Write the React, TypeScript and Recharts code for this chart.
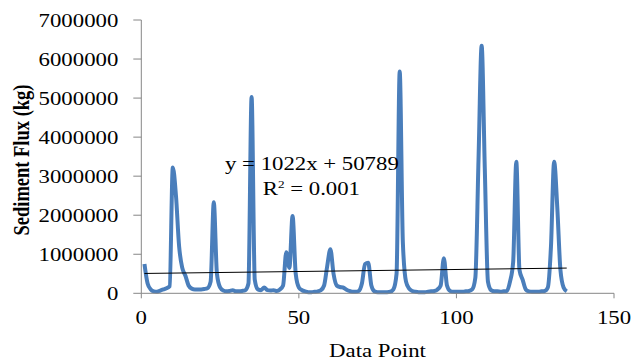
import { LineChart, Line, XAxis, YAxis } from "recharts";

// sediment flux per data point (kg), points 1..135
const fluxKg = [
  750000, 250000, 100000, 50000, 40000, 70000, 100000, 130000, 180000, 3220000,
  2500000, 1200000, 650000, 450000, 200000, 120000, 100000, 100000, 100000, 110000,
  130000, 300000, 2330000, 500000, 150000, 70000, 50000, 60000, 80000, 50000,
  50000, 60000, 80000, 250000, 5030000, 350000, 100000, 80000, 150000, 80000,
  70000, 80000, 60000, 100000, 200000, 1050000, 650000, 1980000, 500000, 150000,
  80000, 50000, 30000, 30000, 40000, 50000, 80000, 200000, 700000, 1130000,
  500000, 200000, 160000, 150000, 100000, 60000, 40000, 40000, 60000, 250000,
  750000, 780000, 200000, 50000, 30000, 30000, 30000, 30000, 40000, 100000,
  500000, 5680000, 1300000, 300000, 120000, 60000, 40000, 30000, 30000, 30000,
  40000, 50000, 60000, 100000, 200000, 900000, 200000, 60000, 40000, 40000,
  40000, 40000, 50000, 60000, 100000, 400000, 3400000, 6340000, 3200000, 300000,
  80000, 50000, 50000, 40000, 50000, 60000, 300000, 800000, 3370000, 600000,
  350000, 100000, 50000, 40000, 40000, 40000, 50000, 60000, 150000, 1200000,
  3370000, 2200000, 600000, 150000, 50000,
];

// linear trendline end points
const trendPoints = [1, 135];
const trendValues = [508000, 646000];

const yTicks = [0, 1000000, 2000000, 3000000, 4000000, 5000000, 6000000, 7000000];
const xTicks = [0, 50, 100, 150];

const FONT = "'Liberation Serif', 'Times New Roman', serif";
const AXIS = "#868686";

const rows = fluxKg.map((v, i) => ({ x: i + 1, flux: v }));
const trendRows = trendPoints.map((x, i) => ({ x, trend: trendValues[i] }));

function YTick({ x, y, payload }: any) {
  return (
    <text transform={`translate(${x},${y}) scale(1.2,1)`} textAnchor="end" dy="0.355em" fontSize={19} fontFamily={FONT} fill="#000">
      {payload.value}
    </text>
  );
}

function XTick({ x, y, payload }: any) {
  return (
    <text transform={`translate(${x},${y}) scale(1.2,1)`} textAnchor="middle" dy="0.71em" fontSize={19} fontFamily={FONT} fill="#000">
      {payload.value}
    </text>
  );
}

export default function App() {
  return (
    <div style={{ position: "absolute", left: 0, top: 0, width: 632, height: 361, background: "#fff" }}>
      <LineChart width={632} height={361} margin={{ top: 20, right: 18, bottom: 37.7, left: 11.3 }}>
        <XAxis
          dataKey="x"
          type="number"
          domain={[0, 150]}
          ticks={xTicks}
          interval={0}
          height={30}
          tickSize={5}
          tickMargin={12}
          axisLine={{ stroke: AXIS }}
          tickLine={{ stroke: AXIS }}
          tick={<XTick />}
          allowDataOverflow
        />
        <YAxis
          type="number"
          domain={[0, 7000000]}
          ticks={yTicks}
          interval={0}
          width={130}
          tickSize={8}
          tickMargin={15}
          axisLine={{ stroke: AXIS }}
          tickLine={{ stroke: AXIS }}
          tick={<YTick />}
        />
        <Line
          data={rows}
          dataKey="flux"
          type="monotone"
          stroke="#4A7EBB"
          strokeWidth={4}
          dot={false}
          isAnimationActive={false}
        />
        <Line
          data={trendRows}
          dataKey="trend"
          type="linear"
          stroke="#000"
          strokeWidth={1}
          dot={false}
          isAnimationActive={false}
        />
      </LineChart>
      <svg width={632} height={361} style={{ position: "absolute", left: 0, top: 0, pointerEvents: "none" }}>
        <text transform="translate(225,169.5) scale(1.2,1)" fontSize={19} fontFamily={FONT} fill="#000">
          y = 1022x + 50789
        </text>
        <text transform="translate(262.7,195) scale(1.2,1)" fontSize={19} fontFamily={FONT} fill="#000">
          R<tspan fontSize={11} dy={-7}>2</tspan>
          <tspan dy={7}> = 0.001</tspan>
        </text>
        <text transform="translate(377.5,357) scale(1.2,1)" textAnchor="middle" fontSize={19} fontFamily={FONT} fill="#000">
          Data Point
        </text>
        <text transform="translate(29,160) scale(1.2,1) rotate(-90)" textAnchor="middle" fontSize={18.5} fontWeight="bold" fontFamily={FONT} fill="#000">
          Sediment Flux (kg)
        </text>
      </svg>
    </div>
  );
}
